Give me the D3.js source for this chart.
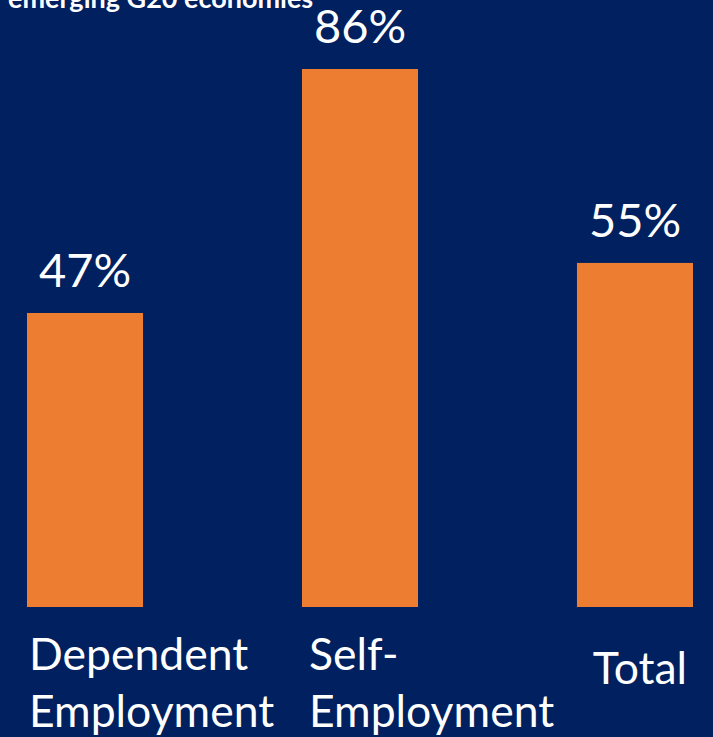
<!DOCTYPE html>
<html><head><meta charset="utf-8">
<script src="https://cdn.jsdelivr.net/npm/d3@7"></script>
<style>
html,body{margin:0;padding:0;background:#00205F;}
svg{display:block;}
</style></head>
<body>
<script>
const categories = ["Dependent Employment", "Self-Employment", "Total"];
const labelLines = [["Dependent", "Employment"], ["Self-", "Employment"], ["Total"]];
const values = [47, 86, 55];
const valueLabels = ["47%", "86%", "55%"];
const titleText = "emerging G20 economies";

const W = 713, H = 737;
const svg = d3.select("body").append("svg").attr("width", W).attr("height", H);
svg.append("rect").attr("width", W).attr("height", H).attr("fill", "#00205F");

const x = d3.scaleBand().domain(categories).range([27, 693]).paddingInner(0.578).paddingOuter(0);
const y = d3.scaleLinear().domain([0, 86]).range([607, 69]);

const font = "Lato, 'Open Sans', sans-serif";

svg.append("text").attr("x", 8).attr("y", 8)
  .attr("fill", "#fff").attr("font-family", font).attr("font-weight", 700)
  .attr("font-size", 27).text(titleText);

svg.selectAll("rect.bar").data(values).join("rect").attr("class", "bar")
  .attr("x", (d, i) => x(categories[i]))
  .attr("y", d => y(d))
  .attr("width", x.bandwidth())
  .attr("height", d => y(0) - y(d))
  .attr("fill", "#ED7D31");

svg.selectAll("text.val").data(values).join("text").attr("class", "val")
  .attr("x", (d, i) => x(categories[i]) + x.bandwidth() / 2)
  .attr("y", d => y(d) - 26)
  .attr("text-anchor", "middle")
  .attr("fill", "#fff").attr("font-family", font).attr("font-size", 47)
  .text((d, i) => valueLabels[i]);

categories.forEach((c, i) => {
  const lines = labelLines[i];
  const g = svg.append("text").attr("fill", "#fff").attr("font-family", font).attr("font-size", 44.5);
  if (lines.length === 1) {
    g.attr("x", x(c) + x.bandwidth() / 2 + 5).attr("y", 684).attr("text-anchor", "middle").text(lines[0]);
  } else {
    lines.forEach((t, j) => {
      g.append("tspan").attr("x", x(c) + (i === 0 ? 2 : 7)).attr("y", 670 + j * 57).text(t);
    });
  }
});
</script>
</body></html>
